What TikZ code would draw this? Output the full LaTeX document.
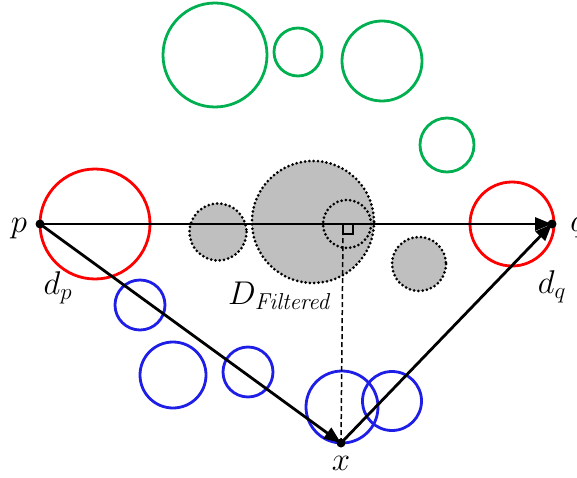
\documentclass[tikz,border=0pt]{standalone}
\usepackage{fix-cm}
\usetikzlibrary{arrows.meta}
\begin{document}
\begin{tikzpicture}[x=1bp,y=-1bp,
  red circ/.style={draw={rgb,255:red,255;green,0;blue,0}, line width=2.8bp},
  green circ/.style={draw={rgb,255:red,0;green,176;blue,80}, line width=2.8bp},
  blue circ/.style={draw={rgb,255:red,30;green,30;blue,230}, line width=2.8bp},
  gray circ/.style={fill={rgb,255:red,191;green,191;blue,191}, draw=black, line width=3bp, dash pattern=on 0bp off 4.3bp, line cap=round},
  pt/.style={circle, fill=black, inner sep=0pt, minimum size=9bp},
  vec/.style={draw=black, line width=2.8bp, -{Triangle[length=17bp,width=13bp]}},
  lbl/.style={font=\fontsize{33}{40}\selectfont, inner sep=0pt}
]
\useasboundingbox (0,0) rectangle (577,478);
% green circles
\draw[green circ] (215,55) circle (52);
\draw[green circ] (298,52) circle (24);
\draw[green circ] (382,61) circle (40);
\draw[green circ] (447,145) circle (27);
% gray dotted circles
\draw[gray circ] (218,232) circle (28.5);
\draw[gray circ] (313,222) circle (61);
\draw[gray circ] (419,264) circle (27);
\draw[gray circ] (347,224) circle (24);
% red circles
\draw[red circ] (95,224) circle (55);
\draw[red circ] (512,224) circle (42);
% blue circles
\draw[blue circ] (140,305) circle (25);
\draw[blue circ] (173,375) circle (33);
\draw[blue circ] (248,372) circle (25);
\draw[blue circ] (342,407) circle (36);
\draw[blue circ] (392,401) circle (29.5);
% points
\node[pt] (p) at (40,224) {};
\node[pt] (q) at (552,224) {};
\node[pt] (x) at (341,443) {};
% dashed perpendicular
\draw[line width=1.5bp, dash pattern=on 5bp off 3bp] (x.center) -- (343,234);
\draw[line width=1.5bp] (343,224) -- (343,234) -- (353,234) -- (353,224);
% arrows
\draw[vec] (p.center) -- (q.center);
\draw[vec] (p.center) -- (x.center);
\draw[vec] (x.center) -- (q.center);
% labels
\node[lbl] (lp) at (19,229) {$p$};
\node[lbl] (lq) at (578,228) {$q$};
\node[lbl] (ldp) at (58,288) {$d_p$};
\node[lbl] (ldq) at (552,287) {$d_q$};
\node[lbl] (lD) at (280,296) {$D_{\mathit{Filtered}}$};
\node[lbl] (lx) at (341,463) {$x$};
\end{tikzpicture}
\end{document}
